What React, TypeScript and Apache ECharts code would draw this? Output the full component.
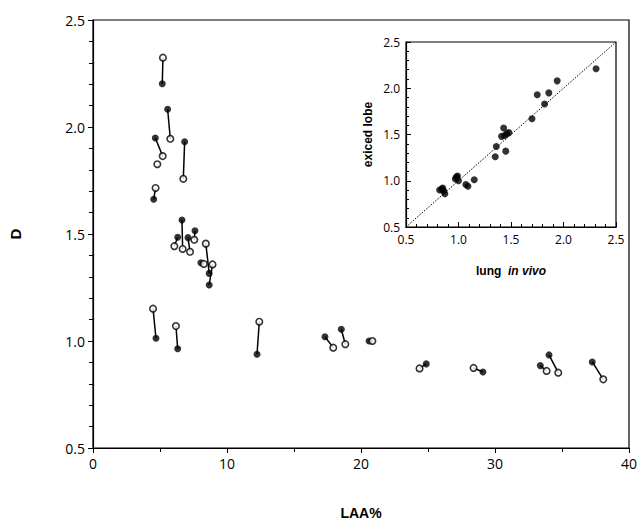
import React, { useEffect, useRef } from "react";
import * as echarts from "echarts";

// Main plot: pairs of in vivo (open) and excised lobe (filled) values
const vivoLAA = [5.22, 5.77, 5.2, 6.74, 4.67, 6.69, 6.07, 7.24, 7.56, 8.42, 8.27, 8.92, 4.48, 6.19, 12.41, 17.93, 18.83, 20.85, 24.37, 28.4, 33.85, 34.72, 38.08];
const vivoD = [2.324, 1.945, 1.864, 1.758, 1.715, 1.43, 1.443, 1.417, 1.473, 1.455, 1.36, 1.358, 1.151, 1.07, 1.09, 0.969, 0.985, 1.0, 0.872, 0.874, 0.86, 0.852, 0.821];
const excLAA = [5.17, 5.57, 4.65, 6.84, 4.53, 6.64, 6.32, 7.09, 7.61, 8.67, 8.05, 8.67, 4.7, 6.32, 12.24, 17.31, 18.53, 20.6, 24.87, 29.1, 33.38, 34.03, 37.26];
const excD = [2.202, 2.083, 1.949, 1.931, 1.662, 1.565, 1.485, 1.483, 1.515, 1.316, 1.366, 1.262, 1.013, 0.964, 0.938, 1.02, 1.055, 1.0, 0.893, 0.855, 0.885, 0.935, 0.902];
// Single open point without a visible partner
const loneVivoLAA = [4.8];
const loneVivoD = [1.826];

// Inset: lung in vivo vs excised lobe
const insetVivo = [2.31, 1.94, 1.75, 1.86, 1.82, 1.7, 1.43, 1.41, 1.46, 1.48, 1.44, 1.36, 1.35, 1.45, 0.98, 0.97, 1.0, 0.99, 1.07, 1.09, 1.15, 0.82, 0.85, 0.87, 0.86, 0.84];
const insetExc = [2.21, 2.08, 1.93, 1.95, 1.83, 1.67, 1.57, 1.48, 1.51, 1.52, 1.49, 1.37, 1.26, 1.32, 1.04, 1.02, 1.0, 1.05, 0.96, 0.94, 1.01, 0.9, 0.92, 0.86, 0.89, 0.91];
const identityLine = [0.5, 2.5];

const mainXTicks = [0, 40, 10];
const mainYTicks = [0.5, 2.5, 0.5];
const insetTicks = [0.5, 2.5, 0.5];

const tickFont = "'Open Sans', 'DejaVu Sans', sans-serif";
const boldFont = "'Liberation Sans', Arial, sans-serif";

export default function App() {
  const ref = useRef<HTMLDivElement>(null);
  useEffect(() => {
    document.body.style.margin = "0";
    const chart = echarts.init(ref.current!, null, { renderer: "svg" });
    const pairLines = vivoLAA.map((x, i) => ({
      coords: [
        [x, vivoD[i]],
        [excLAA[i], excD[i]],
      ],
    }));
    const openPts = vivoLAA.map((x, i) => [x, vivoD[i]]).concat(loneVivoLAA.map((x, i) => [x, loneVivoD[i]]));
    const filledPts = excLAA.map((x, i) => [x, excD[i]]);
    const insetPts = insetVivo.map((x, i) => [x, insetExc[i]]);

    const axisLineStyle = { color: "#000", width: 1.2 };
    chart.setOption({
      animation: false,
      backgroundColor: "#fff",
      grid: [
        { left: 92, top: 20, width: 537, height: 428, show: true, borderColor: "#000", borderWidth: 1.2, backgroundColor: "transparent" },
        { left: 406, top: 42, width: 210, height: 185, show: true, borderColor: "#000", borderWidth: 1.2, backgroundColor: "#fff" },
      ],
      xAxis: [
        {
          gridIndex: 0,
          type: "value",
          min: mainXTicks[0],
          max: mainXTicks[1],
          interval: mainXTicks[2],
          axisLine: { lineStyle: axisLineStyle },
          axisTick: { show: true, inside: false, length: 5, lineStyle: { color: "#000" } },
          minorTick: { show: true, splitNumber: 2, length: 4, lineStyle: { color: "#000" } },
          splitLine: { show: false },
          axisLabel: { color: "#000", fontFamily: tickFont, fontSize: 14, margin: 8 },
          name: "LAA%",
          nameLocation: "middle",
          nameGap: 58,
          nameTextStyle: { color: "#000", fontFamily: boldFont, fontWeight: "bold", fontSize: 14 },
        },
        {
          gridIndex: 1,
          type: "value",
          min: insetTicks[0],
          max: insetTicks[1],
          interval: insetTicks[2],
          axisLine: { lineStyle: axisLineStyle },
          axisTick: { show: true, inside: true, length: 5, lineStyle: { color: "#000" } },
          minorTick: { show: true, splitNumber: 5, length: 3, lineStyle: { color: "#000" } },
          splitLine: { show: false },
          axisLabel: { color: "#000", fontFamily: tickFont, fontSize: 12, margin: 6, formatter: (v: number) => v.toFixed(1) },
          name: "{a|lung}  {b|in vivo}",
          nameLocation: "middle",
          nameGap: 38,
          nameTextStyle: {
            color: "#000",
            rich: {
              a: { fontFamily: boldFont, fontWeight: "bold", fontSize: 12, color: "#000" },
              b: { fontFamily: boldFont, fontWeight: "bold", fontStyle: "italic", fontSize: 12, color: "#000" },
            },
          },
        },
      ],
      yAxis: [
        {
          gridIndex: 0,
          type: "value",
          min: mainYTicks[0],
          max: mainYTicks[1],
          interval: mainYTicks[2],
          axisLine: { lineStyle: axisLineStyle },
          axisTick: { show: true, inside: false, length: 5, lineStyle: { color: "#000" } },
          minorTick: { show: true, splitNumber: 5, length: 4, lineStyle: { color: "#000" } },
          splitLine: { show: false },
          axisLabel: { color: "#000", fontFamily: tickFont, fontSize: 14, margin: 8, formatter: (v: number) => v.toFixed(1) },
          name: "D",
          nameLocation: "middle",
          nameGap: 70,
          nameRotate: 90,
          nameTextStyle: { color: "#000", fontFamily: boldFont, fontWeight: "bold", fontSize: 15 },
        },
        {
          gridIndex: 1,
          type: "value",
          min: insetTicks[0],
          max: insetTicks[1],
          interval: insetTicks[2],
          axisLine: { lineStyle: axisLineStyle },
          axisTick: { show: true, inside: true, length: 5, lineStyle: { color: "#000" } },
          minorTick: { show: true, splitNumber: 5, length: 3, lineStyle: { color: "#000" } },
          splitLine: { show: false },
          axisLabel: { color: "#000", fontFamily: tickFont, fontSize: 12, margin: 6, formatter: (v: number) => v.toFixed(1) },
          name: "exiced lobe",
          nameLocation: "middle",
          nameGap: 32,
          nameRotate: 90,
          nameTextStyle: { color: "#000", fontFamily: boldFont, fontWeight: "bold", fontSize: 12 },
        },
      ],
      series: [
        {
          type: "lines",
          coordinateSystem: "cartesian2d",
          xAxisIndex: 0,
          yAxisIndex: 0,
          data: pairLines,
          lineStyle: { color: "#000", width: 1.5, opacity: 1 },
          symbol: "none",
          silent: true,
          z: 2,
        },
        {
          type: "scatter",
          xAxisIndex: 0,
          yAxisIndex: 0,
          data: filledPts,
          symbol: "circle",
          symbolSize: 7,
          itemStyle: { color: "#000" },
          z: 3,
        },
        {
          type: "scatter",
          xAxisIndex: 0,
          yAxisIndex: 0,
          data: openPts,
          symbol: "circle",
          symbolSize: 6.5,
          itemStyle: { color: "#fff", borderColor: "#000", borderWidth: 1.6 },
          z: 4,
        },
        {
          type: "line",
          xAxisIndex: 1,
          yAxisIndex: 1,
          data: identityLine.map((v) => [v, v]),
          symbol: "none",
          lineStyle: { color: "#000", width: 1, type: [1.5, 1.5] },
          z: 5,
        },
        {
          type: "scatter",
          xAxisIndex: 1,
          yAxisIndex: 1,
          data: insetPts,
          symbol: "circle",
          symbolSize: 7,
          itemStyle: { color: "#000" },
          z: 6,
        },
      ],
    });
    return () => chart.dispose();
  }, []);
  return <div ref={ref} style={{ position: "absolute", left: 0, top: 0, width: 640, height: 527 }} />;
}
